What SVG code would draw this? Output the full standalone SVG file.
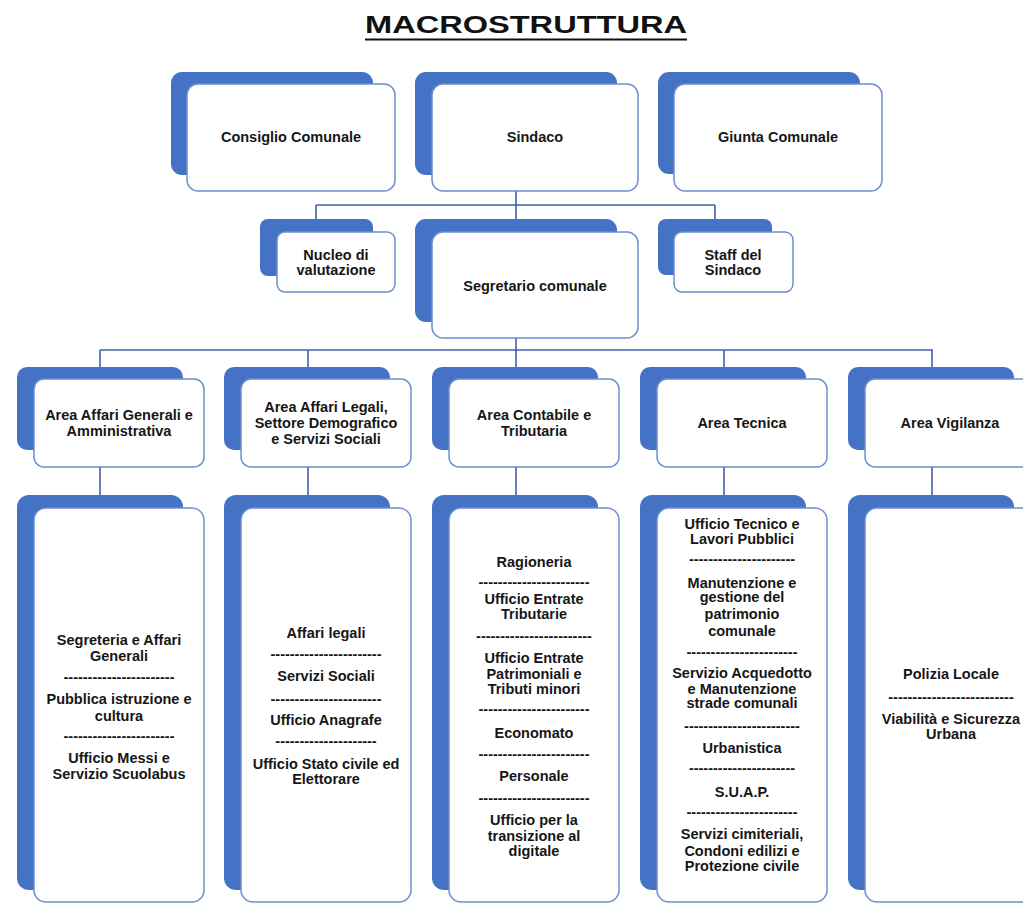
<svg xmlns="http://www.w3.org/2000/svg" width="1023" height="903" viewBox="0 0 1023 903">
<style>
.bk{fill:#4472c4}
.fr{fill:#ffffff;stroke:#6f8ecd;stroke-width:1.5}
.t{font-family:"Liberation Sans",Arial,sans-serif;font-weight:bold;font-size:14.5px;fill:#161616;text-anchor:middle}
.d{font-family:"Liberation Sans",Arial,sans-serif;font-weight:bold;font-size:14.5px;fill:#161616;text-anchor:middle}
.c{stroke:#3f63a8;stroke-width:1.6;fill:none}
</style>
<rect width="1023" height="903" fill="#ffffff"/>
<g id="title">
<text x="365" y="33" font-family="'Liberation Sans',Arial,sans-serif" font-weight="bold" font-size="24" fill="#111" textLength="322" lengthAdjust="spacingAndGlyphs">MACROSTRUTTURA</text>
<line x1="365" y1="39.5" x2="687" y2="39.5" stroke="#111" stroke-width="1.8"/>
</g>
<g id="connectors">
<path class="c" d="M516,191 V219 M316,205 H715 M316,205 V219 M715,205 V219"/>
<path class="c" d="M516,338 V367 M100,350 H933 M100,350 V367 M308,350 V367 M724,350 V367 M932,350 V367"/>
<path class="c" d="M100,467 V495 M308,467 V495 M516,467 V495 M724,467 V495 M932,467 V495"/>
</g>
<g id="consiglio">
<rect class="bk" x="171" y="72" width="202" height="103" rx="11"/>
<rect class="fr" x="187" y="84" width="208" height="107" rx="11"/>
<text class="t" x="291" y="142">Consiglio Comunale</text>
</g>
<g id="sindaco">
<rect class="bk" x="415" y="72" width="202" height="103" rx="11"/>
<rect class="fr" x="432" y="84" width="206" height="107" rx="11"/>
<text class="t" x="535" y="142">Sindaco</text>
</g>
<g id="giunta">
<rect class="bk" x="658" y="72" width="202" height="102" rx="11"/>
<rect class="fr" x="674" y="84" width="208" height="107" rx="11"/>
<text class="t" x="778" y="142">Giunta Comunale</text>
</g>
<g id="nucleo">
<rect class="bk" x="260" y="219" width="113" height="57" rx="8"/>
<rect class="fr" x="277" y="232" width="118" height="60" rx="8"/>
<text class="t" x="336" y="260">Nucleo di</text>
<text class="t" x="336" y="275">valutazione</text>
</g>
<g id="segretario">
<rect class="bk" x="415" y="219" width="202" height="103" rx="11"/>
<rect class="fr" x="432" y="232" width="206" height="106" rx="11"/>
<text class="t" x="535" y="291">Segretario comunale</text>
</g>
<g id="staff">
<rect class="bk" x="658" y="219" width="114" height="56" rx="8"/>
<rect class="fr" x="674" y="232" width="119" height="60" rx="8"/>
<text class="t" x="733" y="260">Staff del</text>
<text class="t" x="733" y="275">Sindaco</text>
</g>
<g id="area1">
<rect class="bk" x="17" y="367" width="166" height="83" rx="10"/>
<rect class="fr" x="34" y="379" width="170" height="88" rx="10"/>
<text class="t" x="119" y="420">Area Affari Generali e</text>
<text class="t" x="119" y="436">Amministrativa</text>
</g>
<g id="area2">
<rect class="bk" x="224" y="367" width="166" height="83" rx="10"/>
<rect class="fr" x="241" y="379" width="170" height="88" rx="10"/>
<text class="t" x="326" y="412">Area Affari Legali,</text>
<text class="t" x="326" y="428">Settore Demografico</text>
<text class="t" x="326" y="444">e Servizi Sociali</text>
</g>
<g id="area3">
<rect class="bk" x="432" y="367" width="166" height="83" rx="10"/>
<rect class="fr" x="449" y="379" width="170" height="88" rx="10"/>
<text class="t" x="534" y="420">Area Contabile e</text>
<text class="t" x="534" y="436">Tributaria</text>
</g>
<g id="area4">
<rect class="bk" x="640" y="367" width="166" height="83" rx="10"/>
<rect class="fr" x="657" y="379" width="170" height="88" rx="10"/>
<text class="t" x="742" y="428">Area Tecnica</text>
</g>
<g id="area5">
<rect class="bk" x="848" y="367" width="166" height="83" rx="10"/>
<rect class="fr" x="865" y="379" width="170" height="88" rx="10"/>
<text class="t" x="950" y="428">Area Vigilanza</text>
</g>
<g id="uffici1">
<rect class="bk" x="17" y="495" width="166" height="395" rx="12"/>
<rect class="fr" x="34" y="508" width="170" height="394" rx="12"/>
<text class="t" x="119" y="645">Segreteria e Affari</text>
<text class="t" x="119" y="661">Generali</text>
<text class="d" x="119" y="682">-----------------------</text>
<text class="t" x="119" y="704">Pubblica istruzione e</text>
<text class="t" x="119" y="721">cultura</text>
<text class="d" x="119" y="741">-----------------------</text>
<text class="t" x="119" y="763">Ufficio Messi e</text>
<text class="t" x="119" y="779">Servizio Scuolabus</text>
</g>
<g id="uffici2">
<rect class="bk" x="224" y="495" width="166" height="395" rx="12"/>
<rect class="fr" x="241" y="508" width="170" height="394" rx="12"/>
<text class="t" x="326" y="638">Affari legali</text>
<text class="d" x="326" y="659">-----------------------</text>
<text class="t" x="326" y="681">Servizi Sociali</text>
<text class="d" x="326" y="704">-----------------------</text>
<text class="t" x="326" y="725">Ufficio Anagrafe</text>
<text class="d" x="326" y="746">---------------------</text>
<text class="t" x="326" y="769">Ufficio Stato civile ed</text>
<text class="t" x="326" y="784">Elettorare</text>
</g>
<g id="uffici3">
<rect class="bk" x="432" y="495" width="166" height="395" rx="12"/>
<rect class="fr" x="449" y="508" width="170" height="394" rx="12"/>
<text class="t" x="534" y="567">Ragioneria</text>
<text class="d" x="534" y="587">-----------------------</text>
<text class="t" x="534" y="604">Ufficio Entrate</text>
<text class="t" x="534" y="619">Tributarie</text>
<text class="d" x="534" y="641">------------------------</text>
<text class="t" x="534" y="663">Ufficio Entrate</text>
<text class="t" x="534" y="679">Patrimoniali e</text>
<text class="t" x="534" y="694">Tributi minori</text>
<text class="d" x="534" y="714">-----------------------</text>
<text class="t" x="534" y="738">Economato</text>
<text class="d" x="534" y="759">-----------------------</text>
<text class="t" x="534" y="781">Personale</text>
<text class="d" x="534" y="803">-----------------------</text>
<text class="t" x="534" y="825">Ufficio per la</text>
<text class="t" x="534" y="841">transizione al</text>
<text class="t" x="534" y="856">digitale</text>
</g>
<g id="uffici4">
<rect class="bk" x="640" y="495" width="166" height="395" rx="12"/>
<rect class="fr" x="657" y="508" width="170" height="394" rx="12"/>
<text class="t" x="742" y="529">Ufficio Tecnico e</text>
<text class="t" x="742" y="544">Lavori Pubblici</text>
<text class="d" x="742" y="564">----------------------</text>
<text class="t" x="742" y="588">Manutenzione e</text>
<text class="t" x="742" y="602">gestione del</text>
<text class="t" x="742" y="619">patrimonio</text>
<text class="t" x="742" y="636">comunale</text>
<text class="d" x="742" y="657">-----------------------</text>
<text class="t" x="742" y="678">Servizio Acquedotto</text>
<text class="t" x="742" y="694">e Manutenzione</text>
<text class="t" x="742" y="708">strade comunali</text>
<text class="d" x="742" y="731">------------------------</text>
<text class="t" x="742" y="753">Urbanistica</text>
<text class="d" x="742" y="773">----------------------</text>
<text class="t" x="742" y="797">S.U.A.P.</text>
<text class="d" x="742" y="817">-----------------------</text>
<text class="t" x="742" y="839">Servizi cimiteriali,</text>
<text class="t" x="742" y="856">Condoni edilizi e</text>
<text class="t" x="742" y="871">Protezione civile</text>
</g>
<g id="uffici5">
<rect class="bk" x="848" y="495" width="166" height="395" rx="12"/>
<rect class="fr" x="865" y="508" width="170" height="394" rx="12"/>
<text class="t" x="951" y="679">Polizia Locale</text>
<text class="d" x="951" y="702">--------------------------</text>
<text class="t" x="951" y="724">Viabilità e Sicurezza</text>
<text class="t" x="951" y="739">Urbana</text>
</g>
</svg>
